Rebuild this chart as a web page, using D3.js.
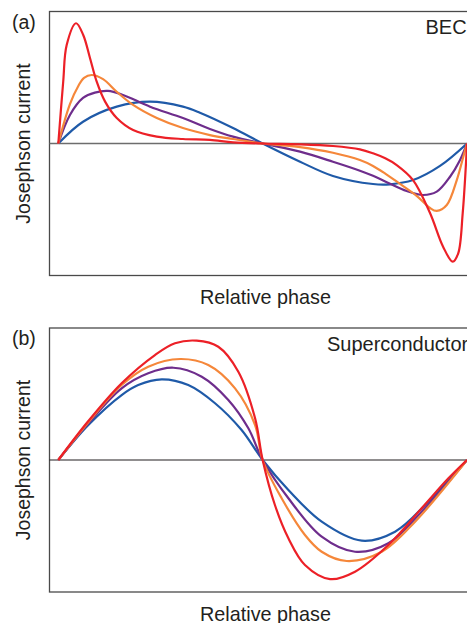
<!DOCTYPE html>
<html>
<head>
<meta charset="utf-8">
<script src="https://cdn.jsdelivr.net/npm/d3@7"></script>
<style>
  body { margin: 0; background: #fff; }
  text { font-family: "Liberation Sans", Arial, Helvetica, sans-serif; fill: #231f20; }
</style>
</head>
<body>
<div id="chart"></div>
<script>
// phase in units of pi, current in arbitrary units
// (a) BEC
const becBlue = [[0,0],[0.121,0.165],[0.286,0.279],[0.449,0.317],[0.610,0.279],[0.693,0.233],[0.855,0.117],[1,0],
  [1.183,-0.138],[1.344,-0.246],[1.540,-0.307],[1.623,-0.309],[1.736,-0.277],[1.868,-0.170],[2,0]];
const becPurple = [[0,0],[0.057,0.216],[0.121,0.345],[0.179,0.385],[0.243,0.398],[0.317,0.367],[0.449,0.279],[0.610,0.193],[0.742,0.110],[0.855,0.052],[1,0],
  [1.183,-0.062],[1.344,-0.138],[1.476,-0.206],[1.540,-0.245],[1.610,-0.295],[1.705,-0.360],[1.785,-0.390],[1.852,-0.365],[1.917,-0.252],[1.966,-0.125],[2,0]];
const becOrange = [[0,0],[0.057,0.299],[0.098,0.436],[0.126,0.498],[0.163,0.519],[0.219,0.488],[0.286,0.392],[0.366,0.292],[0.482,0.193],[0.610,0.117],[0.742,0.064],[0.855,0.034],[1,0],
  [1.183,-0.027],[1.344,-0.070],[1.476,-0.125],[1.540,-0.170],[1.600,-0.228],[1.662,-0.295],[1.755,-0.398],[1.819,-0.489],[1.852,-0.511],[1.901,-0.466],[1.950,-0.277],[1.982,-0.100],[2,0]];
const becRed = [[0,0],[0.024,0.468],[0.041,0.746],[0.087,0.911],[0.122,0.822],[0.155,0.648],[0.188,0.468],[0.229,0.317],[0.286,0.193],[0.366,0.102],[0.482,0.052],[0.610,0.034],[0.742,0.027],[0.855,0.009],[1,0],
  [1.183,-0.006],[1.344,-0.019],[1.476,-0.044],[1.540,-0.074],[1.600,-0.112],[1.656,-0.163],[1.736,-0.277],[1.819,-0.527],[1.883,-0.782],[1.930,-0.895],[1.957,-0.832],[1.979,-0.527],[1.995,-0.150],[2,0]];

// (b) Superconductor
const scBlue = [[0,0],[0.147,0.265],[0.310,0.492],[0.391,0.568],[0.506,0.611],[0.636,0.568],[0.767,0.430],[0.897,0.227],[1,0],
  [1.126,-0.227],[1.289,-0.467],[1.485,-0.611],[1.648,-0.543],[1.811,-0.316],[2,0]];
const scPurple = [[0,0],[0.147,0.278],[0.310,0.543],[0.440,0.657],[0.563,0.699],[0.702,0.631],[0.832,0.455],[0.930,0.240],[1,0],
  [1.126,-0.290],[1.289,-0.581],[1.452,-0.695],[1.615,-0.631],[1.778,-0.392],[2,0]];
const scOrange = [[0,0],[0.147,0.286],[0.310,0.568],[0.440,0.707],[0.596,0.765],[0.734,0.720],[0.865,0.543],[0.963,0.265],[1,0],
  [1.093,-0.290],[1.207,-0.568],[1.289,-0.695],[1.411,-0.765],[1.583,-0.695],[1.746,-0.467],[2,0]];
const scRed = [[0,0],[0.147,0.295],[0.310,0.581],[0.473,0.795],[0.571,0.884],[0.677,0.904],[0.783,0.858],[0.881,0.669],[0.963,0.316],[1,0],
  [1.060,-0.341],[1.126,-0.593],[1.207,-0.795],[1.330,-0.902],[1.452,-0.846],[1.615,-0.644],[1.778,-0.366],[1.909,-0.139],[2,0]];

const colors = ["#1f5aa8", "#6e2d8c", "#f5873a", "#ec2027"];

const panels = [
  {tag: "(a)", name: "BEC", series: [becBlue, becPurple, becOrange, becRed], top: 11.5, bottom: 275.5, zeroColor: "#6d6d6d", zeroWidth: 1.6},
  {tag: "(b)", name: "Superconductor", series: [scBlue, scPurple, scOrange, scRed], top: 328, bottom: 592, zeroColor: "#231f20", zeroWidth: 1.2}
];

const width = 467, height = 623;
const boxLeft = 49.5;

const svg = d3.select("#chart").append("svg")
    .attr("width", width)
    .attr("height", height);

const x = d3.scaleLinear().domain([0, 2]).range([58.3, 467]);

panels.forEach(function(p) {
    const y = d3.scaleLinear().domain([-1, 1]).range([p.bottom, p.top]);
    const g = svg.append("g");

    // frame (right side runs off the page)
    g.append("rect")
        .attr("x", boxLeft)
        .attr("y", p.top)
        .attr("width", 460)
        .attr("height", p.bottom - p.top)
        .attr("fill", "none")
        .attr("stroke", "#4a4a4a")
        .attr("stroke-width", 1.3);

    // zero line
    g.append("line")
        .attr("x1", boxLeft).attr("x2", width)
        .attr("y1", y(0)).attr("y2", y(0))
        .attr("stroke", p.zeroColor)
        .attr("stroke-width", p.zeroWidth);

    const line = d3.line()
        .x(function(d) { return x(d[0]); })
        .y(function(d) { return y(d[1]); })
        .curve(d3.curveCatmullRom.alpha(0.5));

    g.selectAll(".curve")
        .data(p.series)
        .enter().append("path")
        .attr("class", "curve")
        .attr("d", line)
        .attr("fill", "none")
        .attr("stroke", function(d, i) { return colors[i]; })
        .attr("stroke-width", 2.2);

    g.append("text")
        .attr("x", 12)
        .attr("y", p.top + 17)
        .style("font-size", "19.5px")
        .text(p.tag);

    g.append("text")
        .attr("x", p.name === "BEC" ? 425.5 : 327)
        .attr("y", p.top + 22.5)
        .style("font-size", "20px")
        .text(p.name);

    g.append("text")
        .attr("transform", "translate(30," + y(0) + ") rotate(-90)")
        .attr("text-anchor", "middle")
        .style("font-size", "19.5px")
        .text("Josephson current");

    g.append("text")
        .attr("x", 265.5)
        .attr("y", p.bottom + 28.8)
        .attr("text-anchor", "middle")
        .style("font-size", "19.8px")
        .text("Relative phase");
});
</script>
</body>
</html>
